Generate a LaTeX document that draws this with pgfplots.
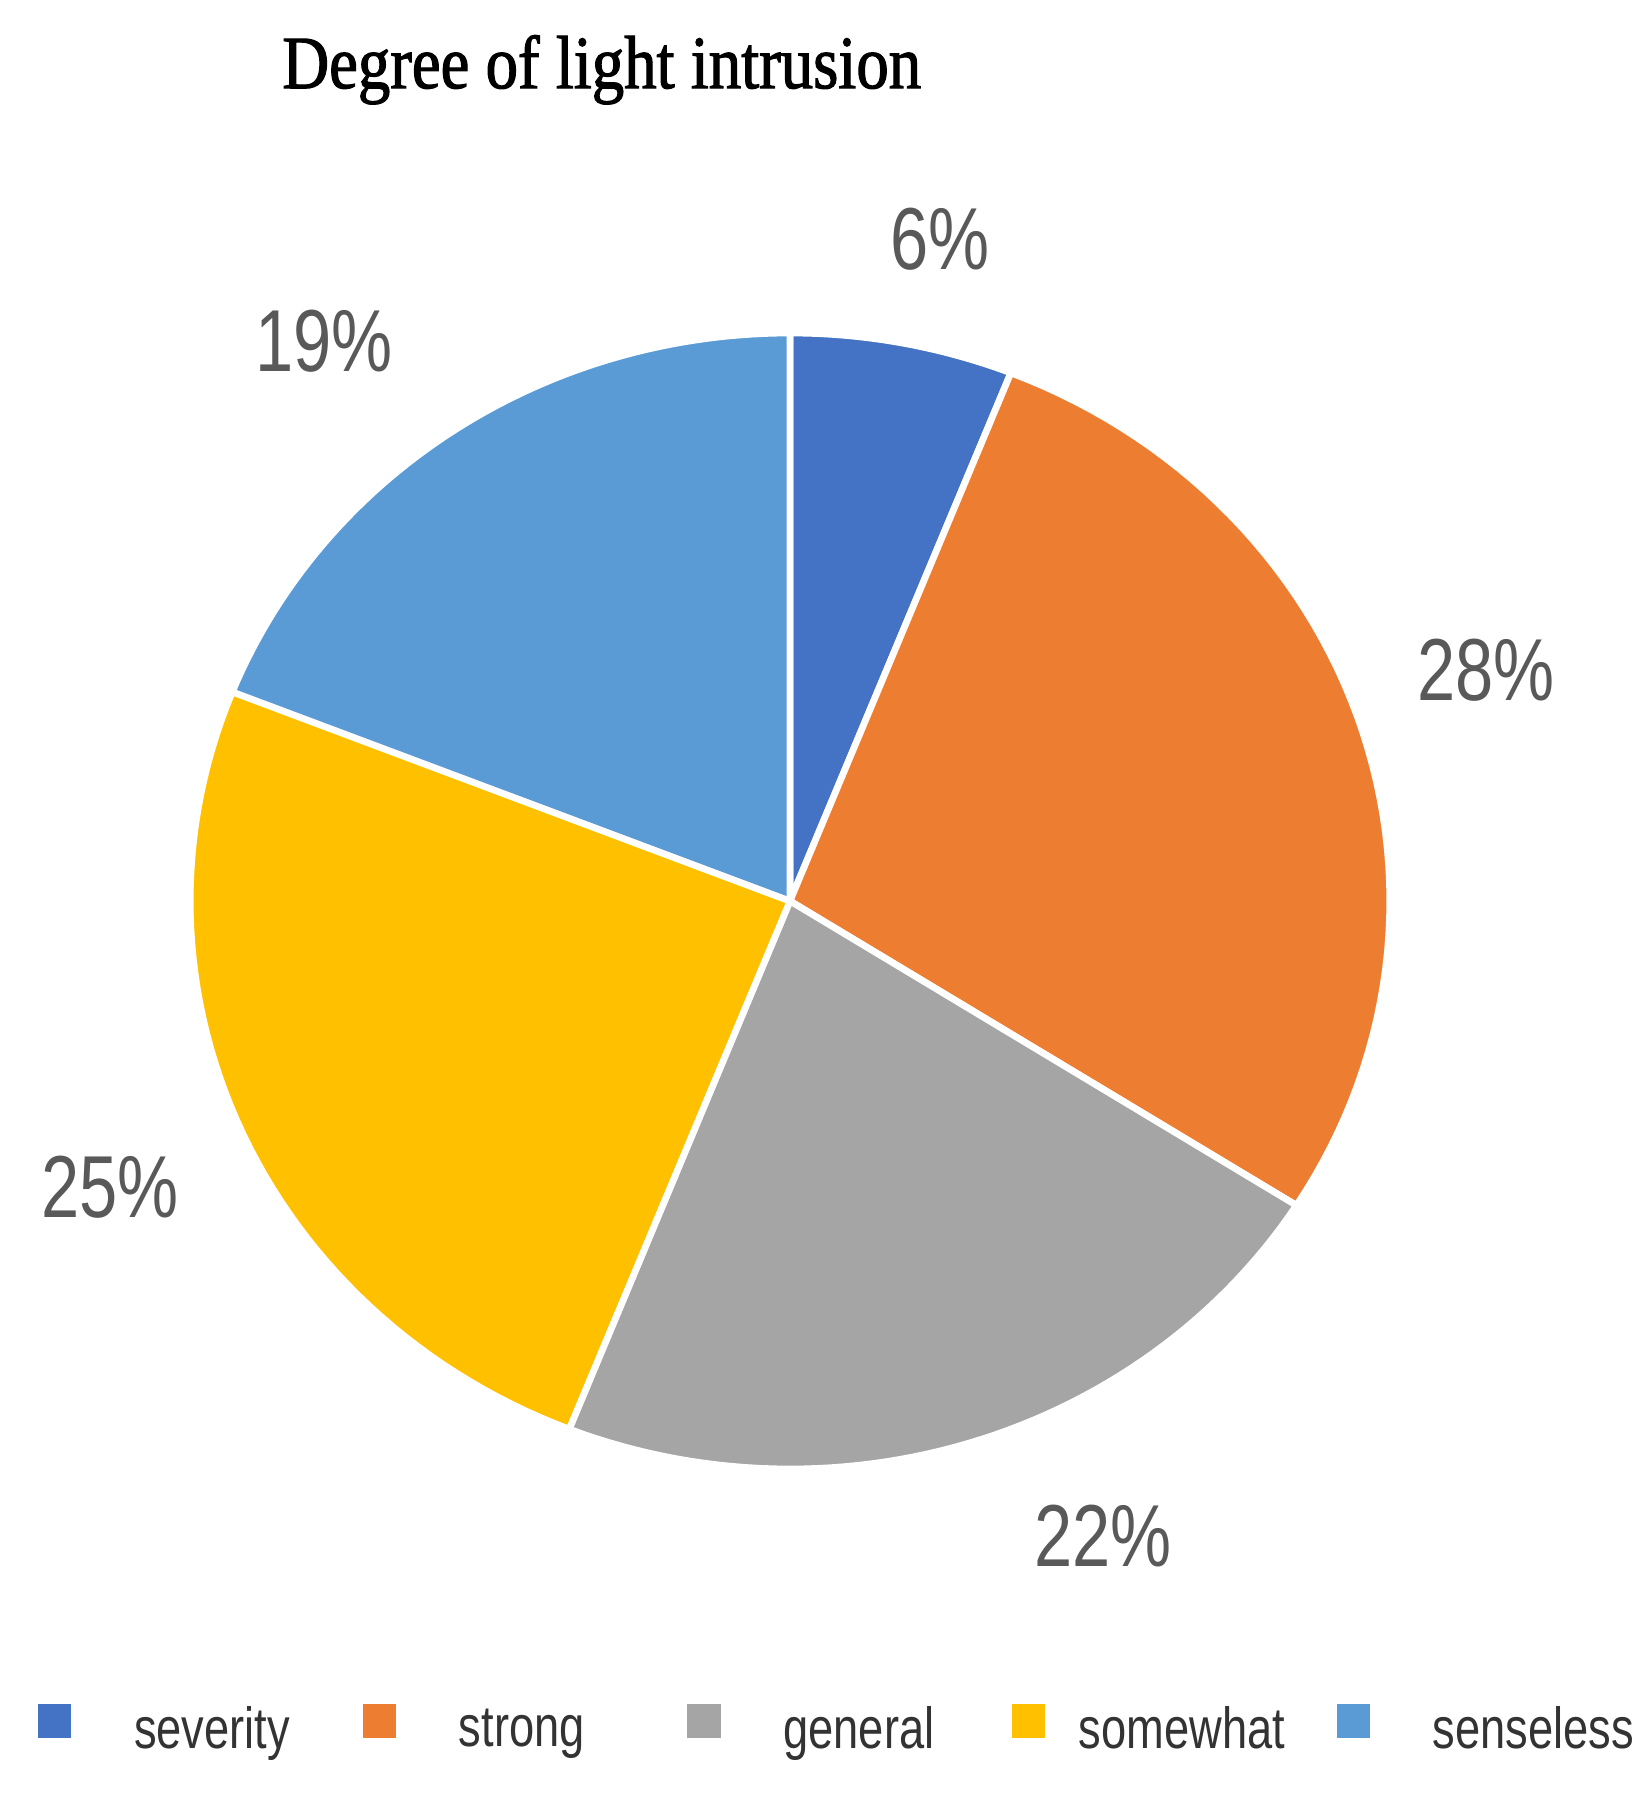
\documentclass[border=0pt]{standalone}
\usepackage{fontspec}
\usepackage{pgfplots}
\pgfplotsset{compat=1.18}
\setmainfont{Liberation Sans}
\newfontfamily\labfont[FakeStretch=0.78]{Liberation Sans}
\newfontfamily\titlefont[FakeStretch=0.86,FakeBold=1.5]{Liberation Serif}

\definecolor{cSeverity}{HTML}{4472C4}
\definecolor{cStrong}{HTML}{ED7D31}
\definecolor{cGeneral}{HTML}{A5A5A5}
\definecolor{cSomewhat}{HTML}{FFC000}
\definecolor{cSenseless}{HTML}{5B9BD5}
\definecolor{labgray}{HTML}{595959}

% slice shares (percent), clockwise from 12 o'clock:
% severity 6, strong 28, general 22, somewhat 25, senseless 19
% the source pie is slightly stretched sideways (factor 1.056)

\begin{document}
\begin{tikzpicture}
\begin{axis}[
    scale only axis,
    width=246pt, height=270pt,
    xmin=-1.3908, xmax=1.4965,
    ymin=-1.5827, ymax=1.5863,
    hide axis,
    clip=false,
    legend columns=5,
    legend style={
        draw=none, fill=none, inner sep=0pt,
        at={(axis cs:-1.326,-1.412)}, anchor=north west,
        font=\labfont\fontsize{8.7}{10}\selectfont,
        text=black!80,
        nodes={inner sep=0pt},
        /tikz/every odd column/.append style={column sep=9.4pt},
        /tikz/every even column/.append style={column sep=1.9pt},
    },
    legend cell align=left,
    legend image code/.code={
        \fill[#1, draw=none] (0pt,-0.8pt) rectangle (5pt,4.2pt);
    },
]
\addplot[fill=cSeverity, draw=white, line width=1pt, domain={90-3.6*6}:{90}, samples=30]
    ({1.056*cos(x)},{sin(x)}) -- (0,0) -- cycle;
\addlegendentry{\makebox[32.4pt][l]{severity}}
\addplot[fill=cStrong, draw=white, line width=1pt, domain={90-3.6*34}:{90-3.6*6}, samples=60]
    ({1.056*cos(x)},{sin(x)}) -- (0,0) -- cycle;
\addlegendentry{\makebox[32.4pt][l]{strong}}
\addplot[fill=cGeneral, draw=white, line width=1pt, domain={90-3.6*56}:{90-3.6*34}, samples=60]
    ({1.056*cos(x)},{sin(x)}) -- (0,0) -- cycle;
\addlegendentry{\makebox[32.4pt][l]{general}}
\addplot[fill=cSomewhat, draw=white, line width=1pt, domain={90-3.6*81}:{90-3.6*56}, samples=60]
    ({1.056*cos(x)},{sin(x)}) -- (0,0) -- cycle;
\addlegendentry{\makebox[32.4pt][l]{\hspace*{-4.4pt}somewhat}}
\addplot[fill=cSenseless, draw=white, line width=1pt, domain={90-3.6*100}:{90-3.6*81}, samples=60]
    ({1.056*cos(x)},{sin(x)}) -- (0,0) -- cycle;
\addlegendentry{\makebox[32.4pt][l]{senseless}}

% percentage labels
\addplot[only marks, mark=none, forget plot,
    nodes near coords, point meta=explicit symbolic,
    every node near coord/.style={anchor=center, text=labgray,
        font=\labfont\fontsize{13.2}{15}\selectfont}]
    coordinates {
    (0.264,1.165)[6\%]
    (1.225,0.407)[28\%]
    (0.551,-1.118)[22\%]
    (-1.197,-0.503)[25\%]
    (-0.820,0.986)[19\%]
    };

\node[anchor=base west, inner sep=0pt, font=\titlefont\fontsize{11.3}{13}\selectfont]
    at (axis cs:-0.896,1.431) {Degree of light intrusion};

\coordinate (bl) at (rel axis cs:0,0);
\coordinate (tr) at (rel axis cs:1,1);
\end{axis}
\pgfresetboundingbox
\path (bl) rectangle (tr);
\end{tikzpicture}
\end{document}
